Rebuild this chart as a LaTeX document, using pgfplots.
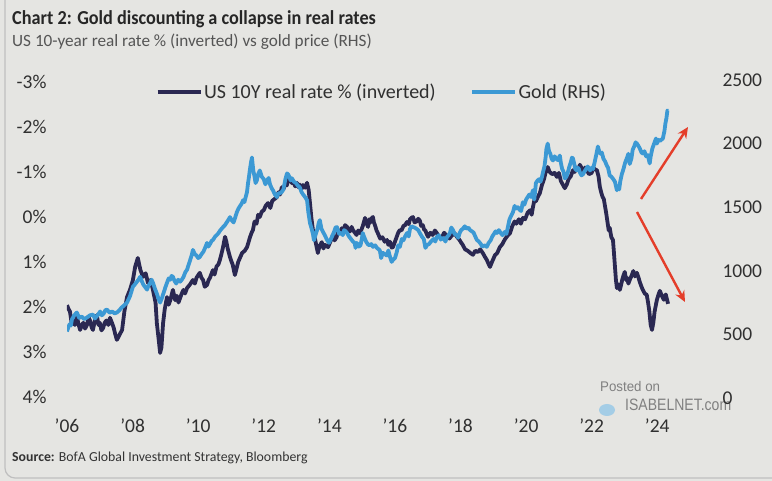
\documentclass[border=0pt]{standalone}
\usepackage{fontspec}
\setmainfont{Carlito}
\newfontfamily\condfont[FakeStretch=0.92]{Carlito}
\newfontfamily\wmfont[FakeStretch=0.85]{Liberation Sans}
\newfontfamily\wmfontb[FakeStretch=0.95]{Liberation Sans}
\usepackage{pgfplots}
\usepackage{pgfplotstable}
\pgfplotsset{compat=1.18}
\usetikzlibrary{arrows.meta}
\definecolor{bg}{RGB}{229,229,226}
\definecolor{navy}{RGB}{42,40,82}
\definecolor{goldblue}{RGB}{60,153,212}
\definecolor{tickc}{RGB}{48,48,48}
\definecolor{subc}{RGB}{85,85,85}
\definecolor{arrowred}{RGB}{228,62,42}

\pgfplotstableread{
year rate
2006.00 1.96
2006.05 2.05
2006.09 2.10
2006.14 2.35
2006.18 2.29
2006.24 2.40
2006.30 2.20
2006.35 2.38
2006.40 2.51
2006.45 2.40
2006.50 2.35
2006.55 2.48
2006.61 2.40
2006.66 2.22
2006.70 2.30
2006.75 2.45
2006.79 2.51
2006.85 2.30
2006.91 2.18
2006.96 2.40
2007.00 2.35
2007.05 2.52
2007.10 2.47
2007.15 2.35
2007.20 2.30
2007.26 2.40
2007.31 2.24
2007.37 2.35
2007.42 2.45
2007.47 2.60
2007.52 2.73
2007.56 2.68
2007.60 2.62
2007.68 2.51
2007.75 2.10
2007.83 1.78
2007.92 1.62
2008.01 1.40
2008.08 1.10
2008.16 0.91
2008.20 1.05
2008.24 1.18
2008.32 1.33
2008.40 1.25
2008.47 1.47
2008.55 1.40
2008.62 1.62
2008.70 1.90
2008.74 2.36
2008.80 2.75
2008.84 3.02
2008.88 2.90
2008.93 2.36
2008.98 2.05
2009.05 1.78
2009.10 1.95
2009.15 1.85
2009.23 1.62
2009.30 1.85
2009.35 1.75
2009.40 1.90
2009.45 1.80
2009.50 1.70
2009.55 1.62
2009.60 1.70
2009.66 1.58
2009.75 1.50
2009.84 1.40
2009.90 1.48
2009.95 1.35
2010.05 1.24
2010.10 1.35
2010.15 1.40
2010.20 1.55
2010.27 1.51
2010.32 1.40
2010.36 1.35
2010.45 1.18
2010.50 1.28
2010.56 1.10
2010.62 1.05
2010.66 0.96
2010.70 0.85
2010.75 0.70
2010.82 0.44
2010.86 0.55
2010.90 0.70
2010.97 0.89
2011.01 0.98
2011.05 1.05
2011.12 1.29
2011.17 1.15
2011.22 1.00
2011.28 0.90
2011.34 0.80
2011.42 0.75
2011.49 0.67
2011.54 0.55
2011.58 0.45
2011.63 0.35
2011.67 0.29
2011.72 0.10
2011.78 0.15
2011.83 -0.05
2011.88 0.00
2011.94 -0.12
2012.00 -0.15
2012.06 -0.25
2012.13 -0.31
2012.20 -0.20
2012.26 -0.36
2012.33 -0.40
2012.40 -0.44
2012.45 -0.55
2012.50 -0.50
2012.55 -0.66
2012.59 -0.60
2012.65 -0.72
2012.70 -0.70
2012.75 -0.82
2012.80 -0.87
2012.86 -0.75
2012.90 -0.80
2012.96 -0.68
2013.01 -0.76
2013.06 -0.66
2013.10 -0.72
2013.15 -0.62
2013.20 -0.71
2013.26 -0.65
2013.32 -0.76
2013.37 -0.60
2013.41 -0.31
2013.45 0.00
2013.50 0.29
2013.54 0.40
2013.58 0.55
2013.65 0.80
2013.70 0.65
2013.77 0.56
2013.82 0.70
2013.87 0.62
2013.96 0.67
2014.03 0.55
2014.11 0.40
2014.16 0.52
2014.22 0.45
2014.27 0.32
2014.32 0.36
2014.38 0.25
2014.43 0.30
2014.48 0.18
2014.54 0.22
2014.58 0.28
2014.63 0.32
2014.68 0.22
2014.72 0.29
2014.78 0.35
2014.83 0.40
2014.88 0.30
2014.93 0.36
2014.98 0.28
2015.02 0.20
2015.09 0.02
2015.14 0.15
2015.18 0.22
2015.22 0.05
2015.26 0.12
2015.30 0.02
2015.33 0.00
2015.36 0.12
2015.40 0.20
2015.44 0.30
2015.48 0.36
2015.55 0.48
2015.62 0.45
2015.69 0.55
2015.76 0.51
2015.80 0.62
2015.85 0.55
2015.90 0.68
2015.94 0.67
2016.00 0.55
2016.05 0.45
2016.10 0.35
2016.15 0.29
2016.20 0.30
2016.26 0.20
2016.31 0.18
2016.37 0.11
2016.42 0.16
2016.46 0.05
2016.50 0.02
2016.55 0.00
2016.60 0.12
2016.66 0.10
2016.71 0.04
2016.76 0.08
2016.80 0.20
2016.85 0.18
2016.89 0.28
2016.93 0.30
2016.97 0.38
2017.01 0.44
2017.08 0.35
2017.15 0.40
2017.22 0.30
2017.28 0.36
2017.35 0.45
2017.44 0.44
2017.50 0.35
2017.59 0.42
2017.66 0.48
2017.75 0.40
2017.82 0.36
2017.89 0.44
2017.96 0.50
2018.03 0.58
2018.07 0.62
2018.14 0.72
2018.22 0.75
2018.30 0.80
2018.38 0.84
2018.45 0.75
2018.53 0.78
2018.60 0.72
2018.68 0.80
2018.74 0.88
2018.80 0.95
2018.86 1.05
2018.90 1.11
2018.96 1.00
2019.05 0.85
2019.12 0.80
2019.20 0.67
2019.28 0.60
2019.35 0.50
2019.43 0.42
2019.51 0.36
2019.58 0.20
2019.65 0.10
2019.70 0.15
2019.78 0.05
2019.84 0.15
2019.90 0.02
2019.97 0.05
2020.05 -0.10
2020.12 -0.15
2020.17 -0.05
2020.21 -0.22
2020.26 -0.40
2020.30 -0.35
2020.36 -0.45
2020.42 -0.53
2020.48 -0.70
2020.55 -0.85
2020.60 -1.00
2020.66 -1.11
2020.72 -1.00
2020.80 -0.95
2020.87 -0.98
2020.94 -0.89
2021.00 -0.98
2021.06 -0.80
2021.12 -0.72
2021.18 -0.64
2021.24 -0.72
2021.30 -0.85
2021.36 -0.90
2021.43 -1.04
2021.48 -1.00
2021.54 -1.10
2021.60 -1.05
2021.64 -1.16
2021.70 -1.08
2021.75 -1.00
2021.80 -1.10
2021.85 -1.04
2021.92 -0.95
2022.00 -0.98
2022.05 -1.10
2022.10 -1.06
2022.16 -1.04
2022.21 -0.90
2022.25 -0.67
2022.29 -0.55
2022.33 -0.45
2022.37 -0.40
2022.40 -0.27
2022.44 -0.10
2022.48 0.10
2022.52 0.30
2022.55 0.24
2022.60 0.45
2022.65 0.51
2022.68 0.80
2022.71 1.10
2022.74 1.40
2022.77 1.58
2022.82 1.50
2022.86 1.62
2022.90 1.50
2022.93 1.40
2022.97 1.30
2023.01 1.22
2023.05 1.40
2023.08 1.35
2023.12 1.48
2023.16 1.40
2023.22 1.30
2023.27 1.20
2023.32 1.32
2023.38 1.24
2023.43 1.35
2023.47 1.45
2023.52 1.55
2023.56 1.62
2023.62 1.70
2023.68 1.73
2023.72 1.90
2023.76 2.10
2023.80 2.40
2023.84 2.51
2023.88 2.35
2023.92 2.10
2023.96 1.95
2023.99 1.84
2024.04 1.72
2024.08 1.64
2024.14 1.75
2024.20 1.84
2024.26 1.72
2024.33 1.93
}\ratetable

\pgfplotstableread{
year gold
2006.00 523
2006.04 555
2006.08 580
2006.12 570
2006.15 617
2006.22 650
2006.30 672
2006.37 630
2006.45 640
2006.52 620
2006.61 633
2006.70 650
2006.79 656
2006.85 625
2006.90 640
2006.96 660
2007.01 680
2007.06 650
2007.12 665
2007.17 690
2007.22 695
2007.30 670
2007.38 680
2007.45 665
2007.52 672
2007.60 690
2007.66 710
2007.75 730
2007.83 750
2007.92 800
2008.01 875
2008.06 890
2008.12 910
2008.18 930
2008.23 953
2008.28 920
2008.33 890
2008.39 870
2008.44 852
2008.48 880
2008.53 900
2008.58 930
2008.62 906
2008.68 860
2008.74 820
2008.79 780
2008.84 750
2008.90 790
2008.95 830
2009.00 870
2009.05 906
2009.10 940
2009.15 930
2009.19 960
2009.23 953
2009.28 920
2009.33 900
2009.39 930
2009.45 914
2009.50 930
2009.55 950
2009.61 990
2009.66 1008
2009.70 1040
2009.75 1080
2009.80 1120
2009.84 1164
2009.90 1130
2009.95 1120
2010.00 1100
2010.05 1109
2010.10 1130
2010.16 1150
2010.21 1180
2010.27 1219
2010.31 1190
2010.36 1210
2010.41 1235
2010.45 1242
2010.52 1270
2010.60 1290
2010.68 1320
2010.76 1344
2010.82 1360
2010.87 1380
2010.92 1400
2010.97 1422
2011.03 1395
2011.08 1380
2011.13 1420
2011.18 1461
2011.23 1490
2011.28 1510
2011.33 1530
2011.37 1555
2011.41 1540
2011.45 1580
2011.49 1620
2011.52 1688
2011.55 1740
2011.58 1800
2011.61 1850
2011.64 1891
2011.68 1790
2011.72 1740
2011.75 1690
2011.79 1711
2011.83 1760
2011.88 1789
2011.94 1740
2012.00 1720
2012.05 1680
2012.10 1711
2012.15 1730
2012.19 1680
2012.24 1650
2012.28 1633
2012.34 1600
2012.40 1580
2012.45 1610
2012.49 1609
2012.55 1620
2012.60 1640
2012.66 1720
2012.71 1766
2012.75 1755
2012.78 1740
2012.82 1710
2012.86 1727
2012.92 1700
2012.98 1690
2013.04 1670
2013.10 1656
2013.15 1620
2013.20 1600
2013.26 1580
2013.32 1555
2013.36 1460
2013.41 1375
2013.45 1340
2013.50 1290
2013.53 1240
2013.56 1266
2013.60 1300
2013.64 1330
2013.68 1380
2013.71 1398
2013.76 1330
2013.82 1300
2013.88 1270
2013.93 1242
2013.99 1220
2014.05 1250
2014.10 1280
2014.15 1310
2014.19 1340
2014.23 1344
2014.30 1290
2014.36 1300
2014.41 1280
2014.45 1320
2014.50 1310
2014.54 1297
2014.60 1270
2014.66 1250
2014.72 1230
2014.77 1220
2014.80 1180
2014.84 1219
2014.90 1190
2014.95 1200
2014.99 1250
2015.02 1297
2015.07 1260
2015.12 1230
2015.17 1210
2015.22 1200
2015.28 1210
2015.33 1188
2015.40 1200
2015.45 1180
2015.50 1170
2015.54 1160
2015.58 1100
2015.63 1141
2015.70 1130
2015.75 1120
2015.80 1160
2015.85 1110
2015.90 1070
2015.94 1086
2016.00 1100
2016.05 1140
2016.10 1200
2016.15 1188
2016.21 1250
2016.26 1240
2016.31 1270
2016.37 1297
2016.42 1270
2016.46 1330
2016.51 1350
2016.55 1344
2016.60 1340
2016.66 1330
2016.71 1320
2016.76 1297
2016.82 1270
2016.88 1250
2016.93 1180
2016.98 1203
2017.04 1210
2017.10 1230
2017.14 1240
2017.18 1250
2017.23 1230
2017.28 1266
2017.34 1280
2017.40 1245
2017.45 1260
2017.50 1250
2017.54 1230
2017.59 1266
2017.64 1280
2017.68 1300
2017.72 1340
2017.77 1320
2017.82 1290
2017.88 1280
2017.93 1260
2017.98 1300
2018.02 1320
2018.07 1330
2018.13 1350
2018.18 1330
2018.24 1340
2018.29 1320
2018.35 1310
2018.40 1300
2018.45 1270
2018.50 1242
2018.56 1230
2018.62 1210
2018.66 1190
2018.70 1195
2018.75 1200
2018.80 1188
2018.86 1220
2018.92 1240
2018.97 1270
2019.02 1290
2019.07 1310
2019.11 1297
2019.17 1320
2019.22 1300
2019.28 1280
2019.35 1305
2019.40 1290
2019.45 1350
2019.49 1400
2019.52 1420
2019.56 1440
2019.60 1461
2019.65 1510
2019.70 1490
2019.75 1500
2019.80 1480
2019.85 1470
2019.90 1539
2019.95 1520
2020.00 1560
2020.05 1580
2020.10 1600
2020.15 1580
2020.21 1633
2020.25 1560
2020.30 1690
2020.35 1710
2020.40 1720
2020.44 1700
2020.48 1734
2020.52 1780
2020.56 1820
2020.60 1900
2020.62 1960
2020.66 2000
2020.70 1940
2020.74 1920
2020.78 1880
2020.82 1867
2020.87 1900
2020.92 1880
2020.97 1870
2021.03 1906
2021.06 1850
2021.10 1800
2021.14 1780
2021.18 1727
2021.23 1740
2021.28 1780
2021.32 1820
2021.36 1850
2021.40 1890
2021.43 1883
2021.47 1840
2021.50 1800
2021.54 1790
2021.58 1810
2021.61 1800
2021.64 1773
2021.69 1750
2021.74 1760
2021.78 1780
2021.83 1800
2021.88 1820
2021.95 1789
2022.00 1810
2022.04 1800
2022.08 1840
2022.13 1900
2022.19 1977
2022.23 1940
2022.27 1920
2022.31 1930
2022.36 1880
2022.41 1860
2022.46 1828
2022.50 1810
2022.55 1750
2022.60 1740
2022.66 1720
2022.71 1700
2022.77 1633
2022.80 1660
2022.84 1640
2022.87 1700
2022.92 1760
2022.97 1800
2023.02 1850
2023.07 1883
2023.12 1920
2023.16 1840
2023.21 1880
2023.25 1950
2023.30 1980
2023.34 2010
2023.38 2000
2023.43 1980
2023.47 1960
2023.52 1930
2023.56 1922
2023.61 1940
2023.66 1900
2023.71 1910
2023.77 1844
2023.80 1900
2023.85 1960
2023.89 1990
2023.92 2010
2023.96 2040
2023.99 2000
2024.04 2030
2024.08 2020
2024.12 2030
2024.17 2039
2024.22 2100
2024.25 2160
2024.28 2200
2024.31 2260
2024.33 2258
}\goldtable

\begin{document}
\begin{tikzpicture}
\begin{scope}[x=1pt,y=1pt]
\fill[bg] (0,0) rectangle (772,481);
\useasboundingbox (0,0) rectangle (772,481);
\draw[black!25, line width=1.2pt, rounded corners=10pt] (5,3) rectangle (830,560);

% titles
\node[anchor=base west, inner sep=0, text=black!85] at (12,456)
  {\condfont\bfseries\fontsize{19.8}{19.8}\selectfont Chart 2: Gold discounting a collapse in real rates};
\node[anchor=base west, inner sep=0, text=subc] at (12,434)
  {\fontsize{17.2}{17.2}\selectfont US 10-year real rate \% (inverted) vs gold price (RHS)};
\node[anchor=base west, inner sep=0, text=black!80] at (12,19)
  {\fontsize{13.8}{13.8}\selectfont\textbf{Source:} BofA Global Investment Strategy, Bloomberg};

% watermark (behind the chart)
\node[anchor=west, inner sep=0, text=black!50] at (600,94) {\wmfontb\fontsize{14}{14}\selectfont Posted on};
\fill[goldblue!55, opacity=0.8] (607,71) ellipse (8pt and 6pt);
\node[anchor=west, inner sep=0, text=black!50] at (625,76) {\wmfont\fontsize{16.5}{16.5}\selectfont ISABELNET.com};
\end{scope}

% left axis: real rate (inverted)
\begin{axis}[
  at={(67pt,83pt)}, anchor=south west, scale only axis,
  width=605pt, height=318pt,
  xmin=2006, xmax=2024.45,
  ymin=-3.044, ymax=4.022, y dir=reverse,
  axis line style={draw=none}, major tick length=0pt,
  xtick={2006,2008,...,2024},
  xticklabels={'06,'08,'10,'12,'14,'16,'18,'20,'22,'24},
  ytick={-3,-2,-1,0,1,2,3,4},
  yticklabels={-3\%,-2\%,-1\%,0\%,1\%,2\%,3\%,4\%},
  tick label style={font=\fontsize{19.5}{19.5}\selectfont, text=tickc},
  yticklabel style={anchor=east, xshift=-17pt},
  xticklabel style={anchor=north, yshift=-17pt},
  legend style={at={(0.52,0.962)}, anchor=center, draw=none, fill=none,
    font=\fontsize{20}{20}\selectfont, text=tickc, legend columns=2,
    /tikz/every even column/.append style={column sep=33pt},
    /tikz/every odd column/.append style={column sep=0pt},
    inner sep=0pt, legend cell align=left,
    nodes={inner sep=1.5pt}},
  legend image code/.code={\draw[#1] (0pt,0pt) -- (43pt,0pt);},
]
\addplot[navy, line width=3.8pt, line join=round] table[x=year, y=rate] {\ratetable};
\addlegendentry{US 10Y real rate \% (inverted)}
\addlegendimage{goldblue, line width=3.8pt}
\addlegendentry{Gold (RHS)}
\end{axis}

% right axis: gold
\begin{axis}[
  at={(67pt,83pt)}, anchor=south west, scale only axis,
  width=605pt, height=318pt,
  xmin=2006, xmax=2024.45,
  ymin=0, ymax=2500,
  axis x line=none,
  axis y line*=right,
  axis line style={draw=none}, major tick length=0pt,
  ytick={0,500,1000,1500,2000,2500},
  yticklabels={0,500,1000,1500,2000,2500},
  tick label style={font=\fontsize{19.5}{19.5}\selectfont, text=tickc},
  yticklabel style={anchor=west, xshift=47pt},
]
\addplot[goldblue, line width=3.8pt, line join=round] table[x=year, y=gold] {\goldtable};
\end{axis}

\begin{scope}[x=1pt,y=1pt]
% annotation arrows
\draw[arrowred, line width=2.4pt, -{Stealth[length=11pt,width=10pt]}] (641,282) -- (688,354);
\draw[arrowred, line width=2.4pt, -{Stealth[length=11pt,width=10pt]}] (637,269) -- (685,179);
\end{scope}
\end{tikzpicture}
\end{document}
